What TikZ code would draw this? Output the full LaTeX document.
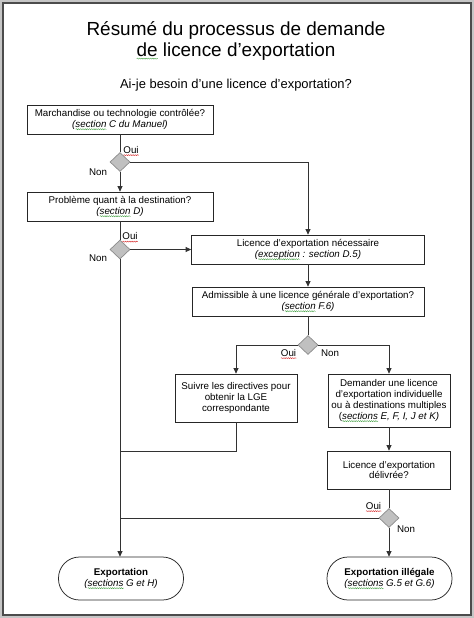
\documentclass[tikz,border=0pt]{standalone}
\usepackage{fontspec}
\setmainfont{Liberation Sans}
\usetikzlibrary{arrows.meta,shapes.geometric,decorations.pathmorphing}
\definecolor{sqred}{RGB}{215,45,45}
\definecolor{sqgreen}{RGB}{70,160,70}
\definecolor{linec}{RGB}{50,50,50}
\definecolor{dfill}{RGB}{192,192,192}
\definecolor{dline}{RGB}{140,140,140}
\newlength\wvlen
\newcommand\wv[2]{\settowidth\wvlen{#2}\rlap{\raisebox{-2.4pt}[0pt][0pt]{\tikz[x=1pt,y=1pt,sharp corners]\draw[#1,sharp corners,line width=0.4pt,decorate,decoration={snake,amplitude=0.55pt,segment length=2.2pt}] (0,0)--(\wvlen,0);}}#2}
\newcommand\sm{\fontsize{9.8}{11}\selectfont}
\begin{document}
\begin{tikzpicture}[x=1bp,y=-1bp,
  box/.style={draw=black!85, line width=0.75bp, fill=white, align=center, font=\sm, inner sep=0pt},
  term/.style={box, rounded corners=21bp, minimum width=125bp, minimum height=43bp},
  dec/.style={diamond, draw=dline, fill=dfill, line width=0.7bp, inner sep=0pt, minimum width=20bp, minimum height=19bp},
  conn/.style={draw=linec, line width=0.85bp},
  arr/.style={conn, -{Triangle[length=5.5bp,width=5bp]}},
  lbl/.style={font=\sm, inner sep=0pt}]
\useasboundingbox (0,0) rectangle (474,618);
% frame
\fill[gray!45] (0,0) rectangle (474,618);
\draw[fill=white, draw=gray!60!black, line width=1.2bp] (3,3) rectangle (471,615);
% titles
\node[font=\fontsize{19}{22}\selectfont, align=center, inner sep=0pt] (title) at (236,41) {Résumé du processus de demande\\\wv{sqgreen}{de} licence d’exportation};
\node[font=\fontsize{13}{15}\selectfont, inner sep=0pt] (sub) at (236,85) {Ai-je besoin d’une licence d’exportation?};
% boxes
\node[box, minimum width=186bp, minimum height=29bp] (b1) at (120,119.5) {Marchandise ou technologie contrôlée?\\\textit{(\wv{sqgreen}{section} C du Manuel)}};
\node[box, minimum width=186bp, minimum height=29bp] (b2) at (120,206.5) {Problème quant à la destination?\\\textit{(\wv{sqgreen}{section} D)}};
\node[box, minimum width=233bp, minimum height=29bp] (b3) at (308,249.5) {Licence d’exportation nécessaire\\\textit{(\wv{sqgreen}{exception} : section D.5)}};
\node[box, minimum width=232bp, minimum height=29bp] (b4) at (308,301.5) {Admissible à une licence générale d’exportation?\\\textit{(\wv{sqgreen}{section} F.6)}};
\node[box, minimum width=122bp, minimum height=48bp] (b5) at (236,398) {Suivre les directives pour\\obtenir la LGE\\correspondante};
\node[box, minimum width=122bp, minimum height=53bp] (b6) at (389,400.5) {Demander une licence\\d’exportation individuelle\\ou à destinations multiples\\(\textit{\wv{sqgreen}{sections} E, F, I, J et K)}};
\node[box, minimum width=123bp, minimum height=38bp] (b7) at (389,470) {Licence d’exportation\\délivrée?};
\node[term] (t1) at (121,578.5) {\textbf{Exportation}\\\textit{(\wv{sqgreen}{sections} G et H)}};
\node[term] (t2) at (389.5,578.5) {\textbf{Exportation illégale}\\\textit{(\wv{sqgreen}{sections} G.5 et G.6)}};
% decisions
\node[dec] (d1) at (120,162) {};
\node[dec] (d2) at (120,249.5) {};
\node[dec] (d3) at (308,345) {};
\node[dec] (d4) at (389,518) {};
% labels
\node[lbl] (o1) at (131,150) {\wv{sqred}{Oui}};
\node[lbl] (n1) at (98,172) {Non};
\node[lbl] (o2) at (130,236.5) {\wv{sqred}{Oui}};
\node[lbl] (n2) at (98,258) {Non};
\node[lbl] (o3) at (288.5,353) {\wv{sqred}{Oui}};
\node[lbl] (n3) at (330,353) {Non};
\node[lbl] (o4) at (373.5,506) {\wv{sqred}{Oui}};
\node[lbl] (n4) at (406,529) {Non};
% junctions
\coordinate (j1) at (120,451);
\coordinate (j2) at (120,518);
% connectors
\draw[conn] (b1.south) -- (d1.north);
\draw[arr] (d1.south) -- (b2.north);
\draw[arr] (d1.east) -| (b3.north);
\draw[conn] (b2.south) -- (d2.north);
\draw[arr] (d2.east) -- (b3.west);
\draw[arr] (d2.south) -- (d2.south |- t1.north);
\draw[arr] (b3.south) -- (b4.north);
\draw[conn] (b4.south) -- (d3.north);
\draw[arr] (d3.west) -| (b5.north);
\draw[arr] (d3.east) -| (b6.north);
\draw[conn] (b5.south) |- (j1);
\draw[arr] (b6.south) -- (b7.north);
\draw[conn] (b7.south) -- (d4.north);
\draw[conn] (d4.west) -- (j2);
\draw[arr] (d4.south) -- (d4.south |- t2.north);
\end{tikzpicture}
\end{document}
